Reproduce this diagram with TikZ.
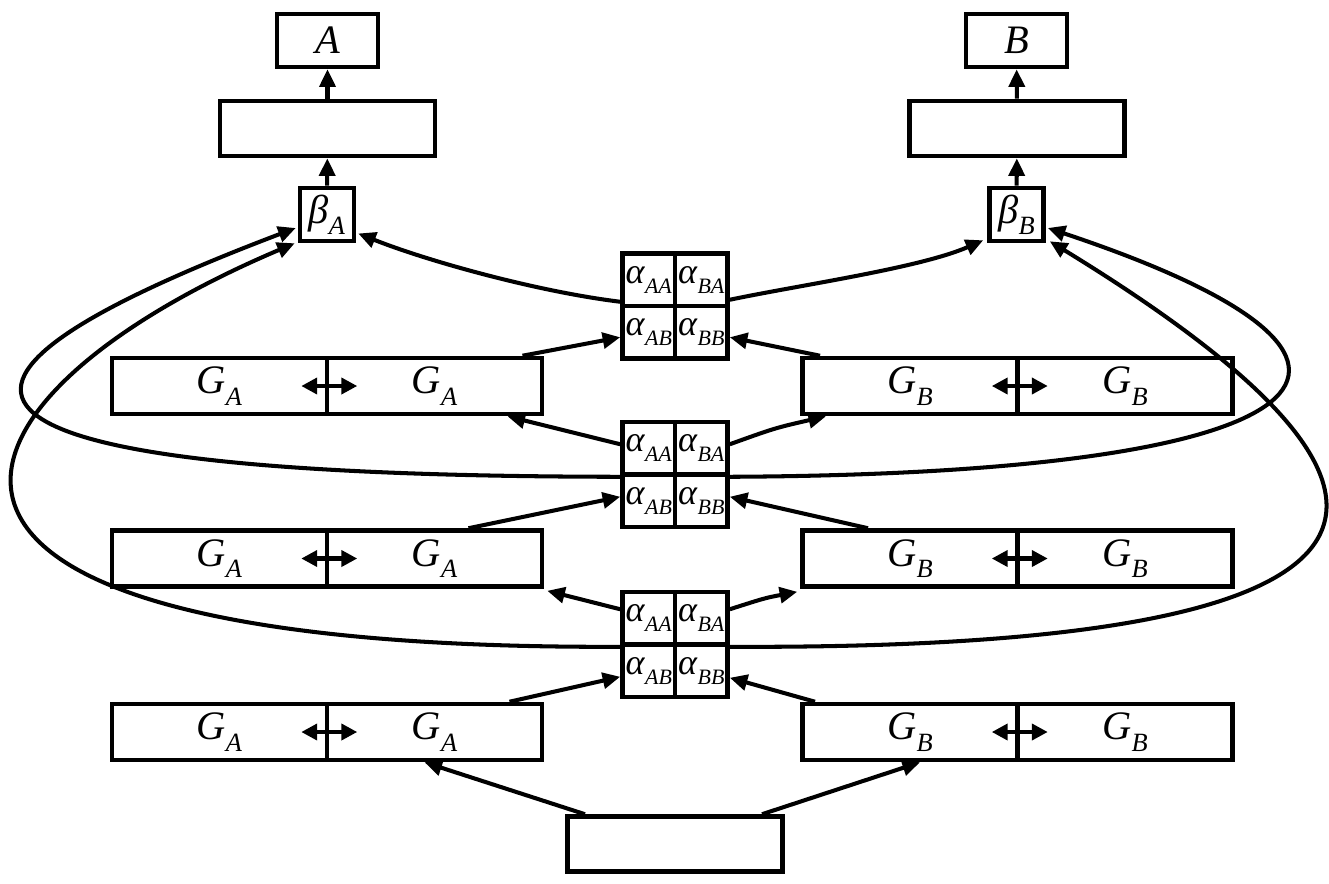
\documentclass[tikz,border=0pt]{standalone}
\usepackage{fontspec}
\setmainfont{Liberation Serif}
\usetikzlibrary{arrows.meta,calc}

% letter with a lowered subscript, big size (G, beta) and cell size (alpha)
\newcommand{\gsub}[2]{\fontsize{23}{23}\selectfont\textit{#1}\raisebox{-0.28em}{\fontsize{15}{15}\selectfont\textit{#2}}}
\newcommand{\asub}[2]{\fontsize{20.5}{20.5}\selectfont\textit{#1}\raisebox{-0.28em}{\fontsize{12.5}{12.5}\selectfont\textit{#2}}}
\newcommand{\onelbl}[1]{\fontsize{23}{23}\selectfont\textit{#1}}

\tikzset{
  outbox/.style={draw, line width=2.6pt, minimum width=2.02cm, minimum height=1.06cm, inner sep=0pt},
  widebox/.style={draw, line width=2.6pt, minimum width=4.3cm, minimum height=1.1cm, inner sep=0pt},
  betabox/.style={draw, line width=2.6pt, minimum width=1.08cm, minimum height=1.06cm, inner sep=0pt},
  gbox/.style={draw, line width=2.6pt, minimum width=4.3cm, minimum height=1.12cm, inner sep=0pt},
  cell/.style={draw, line width=2.6pt, minimum width=1.05cm, minimum height=1.05cm, inner sep=0pt},
  arr/.style={-{Triangle[length=10pt,width=9pt]}, line width=2.3pt},
  dbl/.style={{Triangle[length=9pt,width=9pt]}-{Triangle[length=9pt,width=9pt]}, line width=2.3pt},
}

\begin{document}
\begin{tikzpicture}[x=0.02cm, y=-0.02cm]
\useasboundingbox (0,0) rectangle (1329,883);

% outputs A and B
\node[outbox] (outA) at (327.5,40.5) {\onelbl{A}};
\node[widebox] (wideA) at (327.5,128.5) {};
\node[betabox] (betaA) at (327,214.5) {\gsub{β}{A}};
\node[outbox] (outB) at (1016.5,40.5) {\onelbl{B}};
\node[widebox] (wideB) at (1017,128.5) {};
\node[betabox] (betaB) at (1016.5,214.5) {\gsub{β}{B}};
\draw[arr] (betaA) -- (wideA);
\draw[arr] (wideA) -- (outA);
\draw[arr] (betaB) -- (wideB);
\draw[arr] (wideB) -- (outB);

% alpha grids: t(op), m(iddle), b(ottom)
\foreach \g/\y in {t/306,m/474.5,b/644.5} {
  \node[cell] (aa\g) at (648.75,\y-26.25) {\asub{α}{AA}};
  \node[cell] (ba\g) at (701.25,\y-26.25) {\asub{α}{BA}};
  \node[cell] (ab\g) at (648.75,\y+26.25) {\asub{α}{AB}};
  \node[cell] (bb\g) at (701.25,\y+26.25) {\asub{α}{BB}};
}

% rows of G boxes
\foreach \r/\y in {1/386,2/558.5,3/732} {
  \node[gbox] (gAl\r) at (219.5,\y) {\gsub{G}{A}};
  \node[gbox] (gAr\r) at (434.5,\y) {\gsub{G}{A}};
  \node[gbox] (gBl\r) at (910,\y) {\gsub{G}{B}};
  \node[gbox] (gBr\r) at (1125,\y) {\gsub{G}{B}};
  \draw[dbl] ($(gAl\r.east)+(-28,0)$) -- ($(gAl\r.east)+(28,0)$);
  \draw[dbl] ($(gBl\r.east)+(-28,0)$) -- ($(gBl\r.east)+(28,0)$);
}

% input box
\node[widebox] (inbox) at (675,844) {};

% row 3
\draw[arr] ($(inbox.north)+(-90,0)$) -- ($(gAr3.south)+(-10,0)$);
\draw[arr] ($(inbox.north)+(87,0)$) -- ($(gBl3.south)+(10,0)$);
\draw[arr] ($(gAr3.north)+(75,0)$) -- ($(abb.west)+(0,6)$);
\draw[arr] ($(gBl3.north)+(-95,0)$) -- ($(bbb.east)+(0,7)$);

% row 2
\draw[arr] ($(aab.west)+(0,-9)$) -- ($(gAr2.south east)+(3,2)$);
\draw[arr] ($(bab.east)+(0,-9)$) .. controls (765,598) .. ($(gBl2.south west)+(-3,3)$);
\draw[arr] ($(gAr2.north)+(34,0)$) -- ($(abm.west)+(0,-4)$);
\draw[arr] ($(gBl2.north)+(-42,0)$) -- ($(bbm.east)+(0,-4)$);

% row 1
\draw[arr] ($(aam.west)+(0,-4)$) -- ($(gAr1.south)+(73,0)$);
\draw[arr] ($(bam.east)+(0,-4)$) .. controls (775,428) .. ($(gBl1.south)+(-84,0)$);
\draw[arr] ($(gAr1.north)+(88,0)$) -- ($(abt.west)+(0,5)$);
\draw[arr] ($(gBl1.north)+(-90,0)$) -- ($(bbt.east)+(0,5)$);

% top grid to the betas
\draw[arr] ($(aat.west)+(0,22)$) .. controls (540,292) and (430,262) .. ($(betaA.east)+(2,19)$);
\draw[arr] ($(bat.east)+(0,20)$) .. controls (800,285) and (920,268) .. ($(betaB.south west)+(-4,-3)$);

% long loops back to the betas
\draw[arr] (aam.south west) .. controls (-115,476) and (-105,380) .. ($(betaA.west)+(-2,13.5)$);
\draw[arr] (aab.south west) .. controls (-185,650) and (-75,400) .. ($(betaA.south west)+(-3,0)$);
\draw[arr] (bam.south east) .. controls (1340,474) and (1450,362) .. ($(betaB.east)+(2,13.5)$);
\draw[arr] (bab.south east) .. controls (1480,650) and (1440,480) .. ($(betaB.south east)+(4,-2)$);
\end{tikzpicture}
\end{document}
